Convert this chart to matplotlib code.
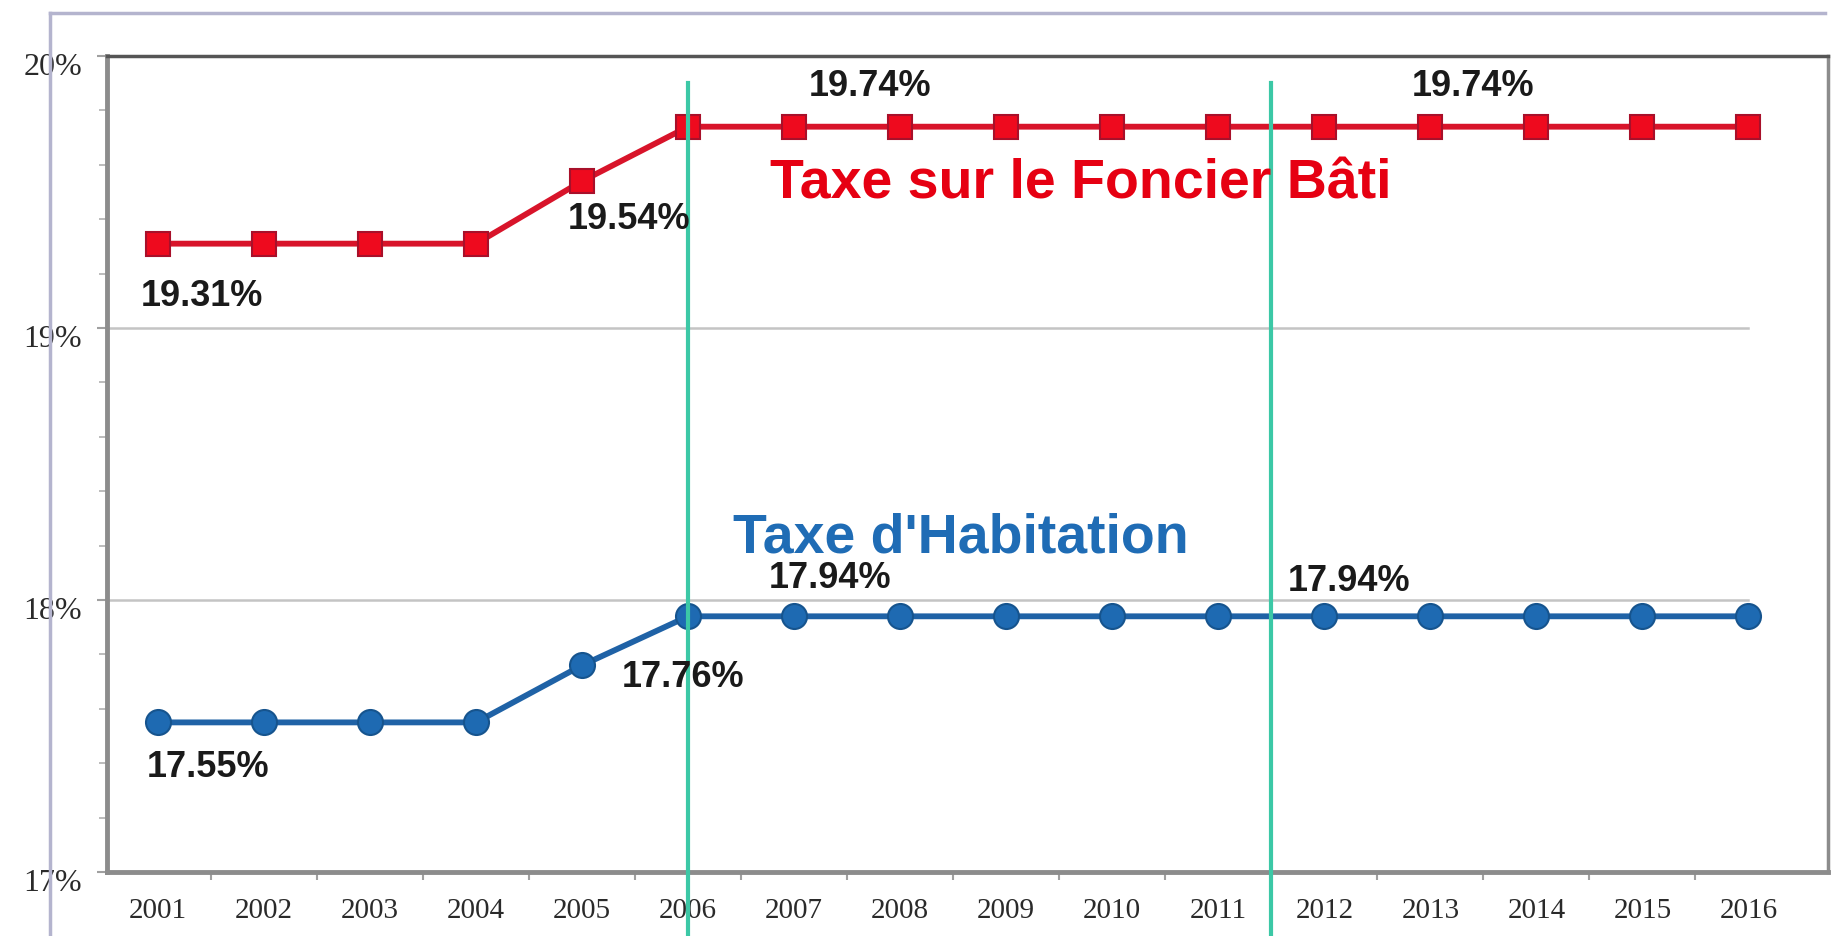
import matplotlib.pyplot as plt
from matplotlib.lines import Line2D
from matplotlib.ticker import MultipleLocator, FixedLocator
from matplotlib.transforms import ScaledTranslation

years = list(range(2001, 2017))
foncier_bati = [19.31, 19.31, 19.31, 19.31, 19.54] + [19.74] * 11
habitation = [17.55, 17.55, 17.55, 17.55, 17.76] + [17.94] * 11
y_ticks = [17, 18, 19, 20]
y_tick_labels = ["17%", "18%", "19%", "20%"]
marker_years = [2006, 2011.5]

# (year, value, label, offset in points)
value_labels = [
    (2001, 19.31, "19.31%", (32, -37)),
    (2005, 19.54, "19.54%", (34, -27)),
    (2007, 19.74, "19.74%", (55, 30)),
    (2013, 19.74, "19.74%", (31, 30)),
    (2001, 17.55, "17.55%", (36, -32)),
    (2005, 17.76, "17.76%", (73, -8)),
    (2007, 17.94, "17.94%", (26, 28)),
    (2012, 17.94, "17.94%", (18, 26)),
]

RED = "#D8142A"
BLUE = "#1F62A6"
TEAL = "#3CC8A6"

fig = plt.figure(figsize=(18.42, 9.37), dpi=100)
ax = fig.add_axes([0.0581, 0.0683, 0.9343, 0.8709])

# outer frame of the original screenshot
frame_col = "#B4B4CE"
fig.add_artist(Line2D([0.027, 0.991], [0.985, 0.985], transform=fig.transFigure,
                      color=frame_col, lw=2.5))
fig.add_artist(Line2D([0.027, 0.027], [0.0, 0.985], transform=fig.transFigure,
                      color=frame_col, lw=2.5))

ax.set_xlim(2000.52, 2016.75)
ax.set_ylim(17, 20)

# gridlines stop at the last year
for y in y_ticks[1:3]:
    ax.plot([ax.get_xlim()[0], years[-1]], [y, y], color="#C4C4C4", lw=1.8, zorder=1)

ax.plot(years, foncier_bati, color=RED, lw=4.2, marker="s", markersize=17,
        markerfacecolor="#EE0A1E", markeredgecolor="#A8102A", markeredgewidth=1.5, zorder=3)
ax.plot(years, habitation, color=BLUE, lw=4.2, marker="o", markersize=18,
        markerfacecolor="#1E6AB2", markeredgecolor="#16548E", markeredgewidth=1.5, zorder=3)

for xv in marker_years:
    ax.plot([xv, xv], [16.76, 19.9], color=TEAL, lw=3.0, clip_on=False, zorder=4)

for yr, val, txt, off in value_labels:
    ax.annotate(txt, xy=(yr, val), xytext=off, textcoords="offset points",
                ha="center", va="center", fontsize=26, fontweight="bold",
                family="Liberation Sans", color="#1A1A1A", zorder=5)

ax.text(2009.70, 19.53, "Taxe sur le Foncier Bâti", color="#E60012", fontsize=40,
        fontweight="bold", family="Liberation Sans", ha="center", va="center", zorder=5)
ax.text(2008.57, 18.23, "Taxe d'Habitation", color="#1F6CB5", fontsize=40,
        fontweight="bold", family="Liberation Sans", ha="center", va="center", zorder=5)

# axes styling
ax.set_xticks(years)
ax.set_xticklabels([str(y) for y in years], family="Liberation Serif", fontsize=21,
                   color="#2A2A2A")
ax.xaxis.set_minor_locator(FixedLocator([y + 0.5 for y in years[:-1]]))
ax.tick_params(axis="x", which="major", length=0, pad=18)
ax.tick_params(axis="x", which="minor", length=6, width=1.5, color="#A0A0A0")

ax.set_yticks(y_ticks)
ax.set_yticklabels(y_tick_labels, family="Liberation Serif", fontsize=23, color="#2A2A2A")
ax.yaxis.set_minor_locator(MultipleLocator(0.2))
ax.tick_params(axis="y", which="major", length=7, width=1.5, color="#A0A0A0", pad=11)
ax.tick_params(axis="y", which="minor", length=6, width=1.2, color="#B0B0B0")
shift = ScaledTranslation(0, -5 / 72, fig.dpi_scale_trans)
for lab in ax.get_yticklabels():
    lab.set_transform(lab.get_transform() + shift)

for side in ["left", "bottom"]:
    ax.spines[side].set_color("#8C8C8C")
    ax.spines[side].set_linewidth(3.5)
ax.spines["top"].set_color("#555555")
ax.spines["top"].set_linewidth(2.5)
ax.spines["right"].set_color("#8C8C8C")
ax.spines["right"].set_linewidth(2.5)

fig.savefig("out.png", dpi=100)
